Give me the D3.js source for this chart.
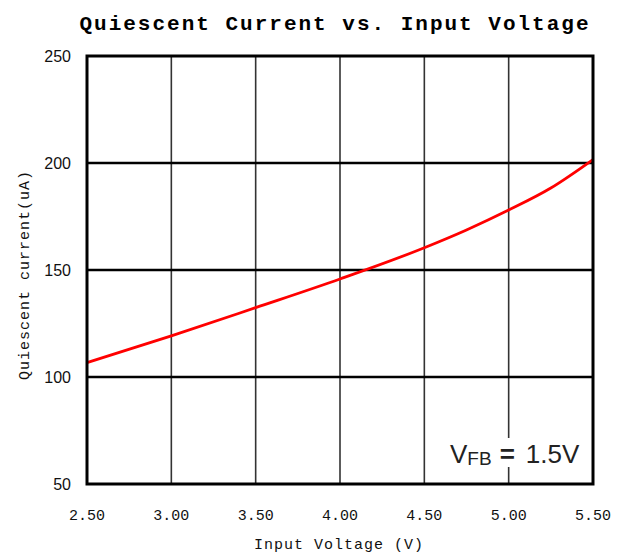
<!DOCTYPE html>
<html><head><meta charset="utf-8">
<script src="https://cdn.jsdelivr.net/npm/d3@7"></script>
<style>body{margin:0;background:#fff}svg{display:block}</style>
</head><body>
<script>
const voltage = [2.5, 3.0, 3.5, 4.0, 4.5, 4.75, 5.0, 5.25, 5.5];
const current = [106.7, 119.2, 132.4, 145.8, 160.4, 168.7, 178.0, 188.3, 201.6];
const xTicks = [2.5, 3.0, 3.5, 4.0, 4.5, 5.0, 5.5];
const yTicks = [50, 100, 150, 200, 250];
const title = "Quiescent Current vs. Input Voltage";
const xLabel = "Input Voltage (V)";
const yLabel = "Quiescent current(uA)";

const W = 623, H = 557;
const L = 87, R = 593, T = 56, B = 484;
const svg = d3.select("body").append("svg").attr("width", W).attr("height", H);
const x = d3.scaleLinear().domain([2.5, 5.5]).range([L, R]);
const y = d3.scaleLinear().domain([50, 250]).range([B, T]);

// vertical grid
svg.append("g").selectAll("line").data(xTicks.slice(1, -1)).join("line")
  .attr("x1", d => x(d)).attr("x2", d => x(d)).attr("y1", T).attr("y2", B)
  .attr("stroke", "#333").attr("stroke-width", 1.6);
// horizontal grid
svg.append("g").selectAll("line").data(yTicks.slice(1, -1)).join("line")
  .attr("x1", L).attr("x2", R).attr("y1", d => y(d)).attr("y2", d => y(d))
  .attr("stroke", "#000").attr("stroke-width", 2.6);

// annotation background
svg.append("rect").attr("x", 446).attr("y", 438).attr("width", 142).attr("height", 29).attr("fill", "#fff");

// curve
const line = d3.line().x((d, i) => x(voltage[i])).y(d => y(d)).curve(d3.curveMonotoneX);
svg.append("path").datum(current).attr("d", line)
  .attr("fill", "none").attr("stroke", "#ff0000").attr("stroke-width", 2.8);

// border
svg.append("rect").attr("x", L).attr("y", T).attr("width", R - L).attr("height", B - T)
  .attr("fill", "none").attr("stroke", "#000").attr("stroke-width", 3);

// y tick labels
svg.append("g").selectAll("text").data(yTicks).join("text")
  .attr("x", 71).attr("y", d => y(d) + 6).attr("text-anchor", "end")
  .attr("font-family", "Liberation Sans, Arial, sans-serif").attr("font-size", 16)
  .attr("fill", "#111").text(d => d);

// x tick labels
svg.append("g").selectAll("text").data(xTicks).join("text")
  .attr("x", d => x(d)).attr("y", 520).attr("text-anchor", "middle")
  .attr("font-family", "Liberation Mono, DejaVu Sans Mono, monospace").attr("font-size", 15)
  .attr("fill", "#111").text(d => d.toFixed(2));

// title
svg.append("text").attr("x", 335).attr("y", 30).attr("text-anchor", "middle")
  .attr("font-family", "Liberation Mono, DejaVu Sans Mono, monospace").attr("font-size", 21)
  .attr("font-weight", "bold").attr("letter-spacing", 2.0).attr("fill", "#000").text(title);

// x axis label
svg.append("text").attr("x", 339).attr("y", 549).attr("text-anchor", "middle")
  .attr("font-family", "Liberation Mono, DejaVu Sans Mono, monospace").attr("font-size", 15)
  .attr("letter-spacing", 1).attr("fill", "#111").text(xLabel);

// y axis label
svg.append("text").attr("transform", "translate(29,275) rotate(-90)").attr("text-anchor", "middle")
  .attr("font-family", "Liberation Mono, DejaVu Sans Mono, monospace").attr("font-size", 15)
  .attr("letter-spacing", 1).attr("fill", "#111").text(yLabel);

// annotation
const ann = svg.append("text").attr("x", 450).attr("y", 463)
  .attr("font-family", "Liberation Sans, Arial, sans-serif").attr("fill", "#222");
ann.append("tspan").attr("font-size", 26).text("V");
ann.append("tspan").attr("font-size", 19).attr("dy", 2).text("FB");
ann.append("tspan").attr("font-size", 26).attr("dy", -2).attr("font-weight", "bold").attr("dx", 8).text("=");
ann.append("tspan").attr("font-size", 26).attr("dx", 11).text("1.5V");
</script>
</body></html>
